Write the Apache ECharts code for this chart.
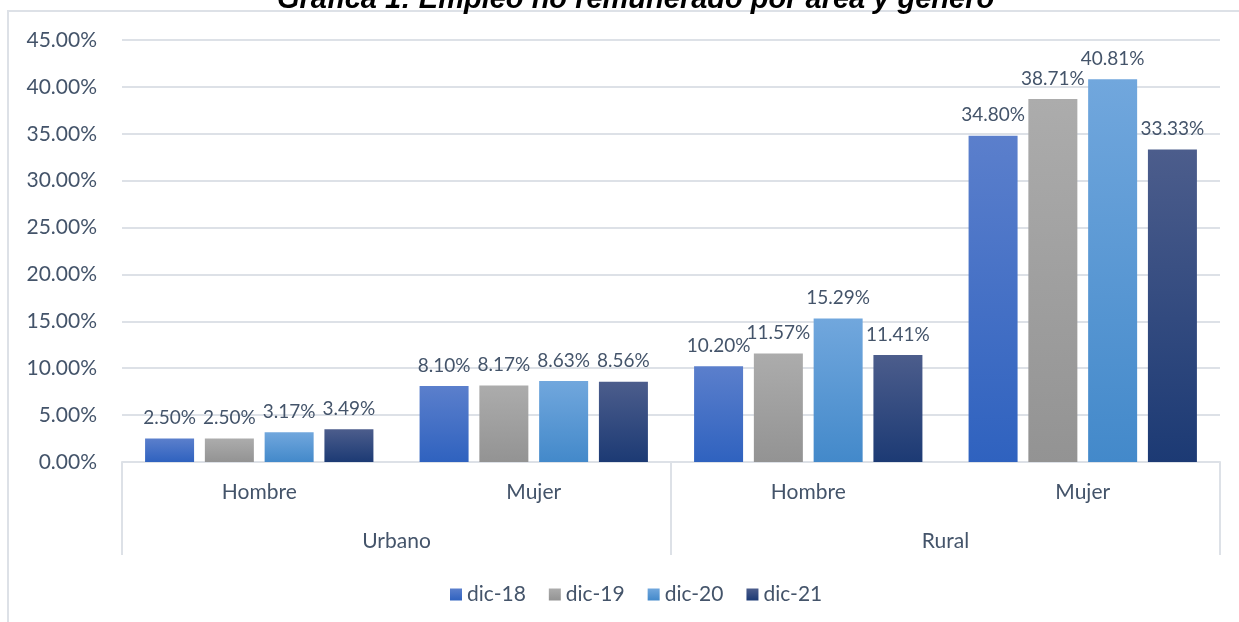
<!DOCTYPE html>
<html style="height: 100%">
<head>
<meta charset="utf-8">
<script src="https://cdn.jsdelivr.net/npm/echarts@6/dist/echarts.min.js"></script>
</head>
<body style="height: 100%; margin: 0; background: #fff">
<div id="container" style="width: 1239px; height: 622px"></div>
<script type="text/javascript">
// data
var generos = ['Hombre', 'Mujer', 'Hombre', 'Mujer'];
var areas = ['Urbano', 'Rural'];
var periodos = ['dic-18', 'dic-19', 'dic-20', 'dic-21'];
var dic18 = [2.50, 8.10, 10.20, 34.80];
var dic19 = [2.50, 8.17, 11.57, 38.71];
var dic20 = [3.17, 8.63, 15.29, 40.81];
var dic21 = [3.49, 8.56, 11.41, 33.33];

var valores = [dic18, dic19, dic20, dic21];
var gradientes = [
  ['#5b7fcc', '#2f62bf'],
  ['#acacac', '#939393'],
  ['#71a7dd', '#4389ca'],
  ['#4c5d8c', '#1c3a74']
];

var txt = '#44546a';
var fuente = 'Lato';
var linea = '#dde1e7';

var dom = document.getElementById('container');
var myChart = echarts.init(dom);

var series = periodos.map(function (p, i) {
  return {
    name: p,
    type: 'bar',
    xAxisIndex: 0,
    data: valores[i],
    barWidth: 49,
    barGap: '22%',
    itemStyle: {
      color: new echarts.graphic.LinearGradient(0, 0, 0, 1, [
        { offset: 0, color: gradientes[i][0] },
        { offset: 1, color: gradientes[i][1] }
      ])
    },
    label: {
      show: true,
      position: 'top',
      distance: 11,
      color: txt,
      fontFamily: fuente,
      fontSize: 19,
      formatter: function (d) { return d.value.toFixed(2) + '%'; }
    }
  };
});

var option = {
  animation: false,
  textStyle: { fontFamily: fuente },
  title: {
    text: 'Gráfica 1: Empleo no remunerado por área y género',
    left: 272,
    top: -20,
    textStyle: {
      fontFamily: 'Liberation Sans',
      fontSize: 29,
      fontWeight: 'bold',
      fontStyle: 'italic',
      color: '#000'
    }
  },
  graphic: [{
    type: 'rect',
    z: -10,
    shape: { x: 8, y: 11, width: 1300, height: 700 },
    style: { fill: 'none', stroke: linea, lineWidth: 2 }
  }],
  legend: {
    data: periodos,
    left: 445,
    top: 579,
    icon: 'rect',
    itemWidth: 12,
    itemHeight: 12,
    itemGap: 23,
    textStyle: { color: txt, fontSize: 21, fontFamily: fuente }
  },
  grid: { left: 122, right: 19, top: 40, bottom: 160 },
  xAxis: [{
    type: 'category',
    data: generos,
    position: 'bottom',
    axisLine: { show: true, lineStyle: { color: linea, width: 2 } },
    axisTick: { show: false },
    axisLabel: { margin: 20, color: txt, fontSize: 21, fontFamily: fuente }
  }, {
    type: 'category',
    data: areas,
    position: 'bottom',
    axisLine: { show: false },
    axisTick: { show: true, length: 93, interval: 0, lineStyle: { color: linea, width: 2 } },
    axisLabel: { margin: 69, color: txt, fontSize: 21, fontFamily: fuente }
  }],
  yAxis: {
    type: 'value',
    min: 0,
    max: 45,
    interval: 5,
    axisLine: { show: false },
    axisTick: { show: false },
    splitLine: { lineStyle: { color: linea, width: 2 } },
    axisLabel: {
      margin: 25,
      color: txt,
      fontSize: 21,
      fontFamily: fuente,
      formatter: function (v) { return v.toFixed(2) + '%'; }
    }
  },
  series: series
};

myChart.setOption(option);
</script>
</body>
</html>
